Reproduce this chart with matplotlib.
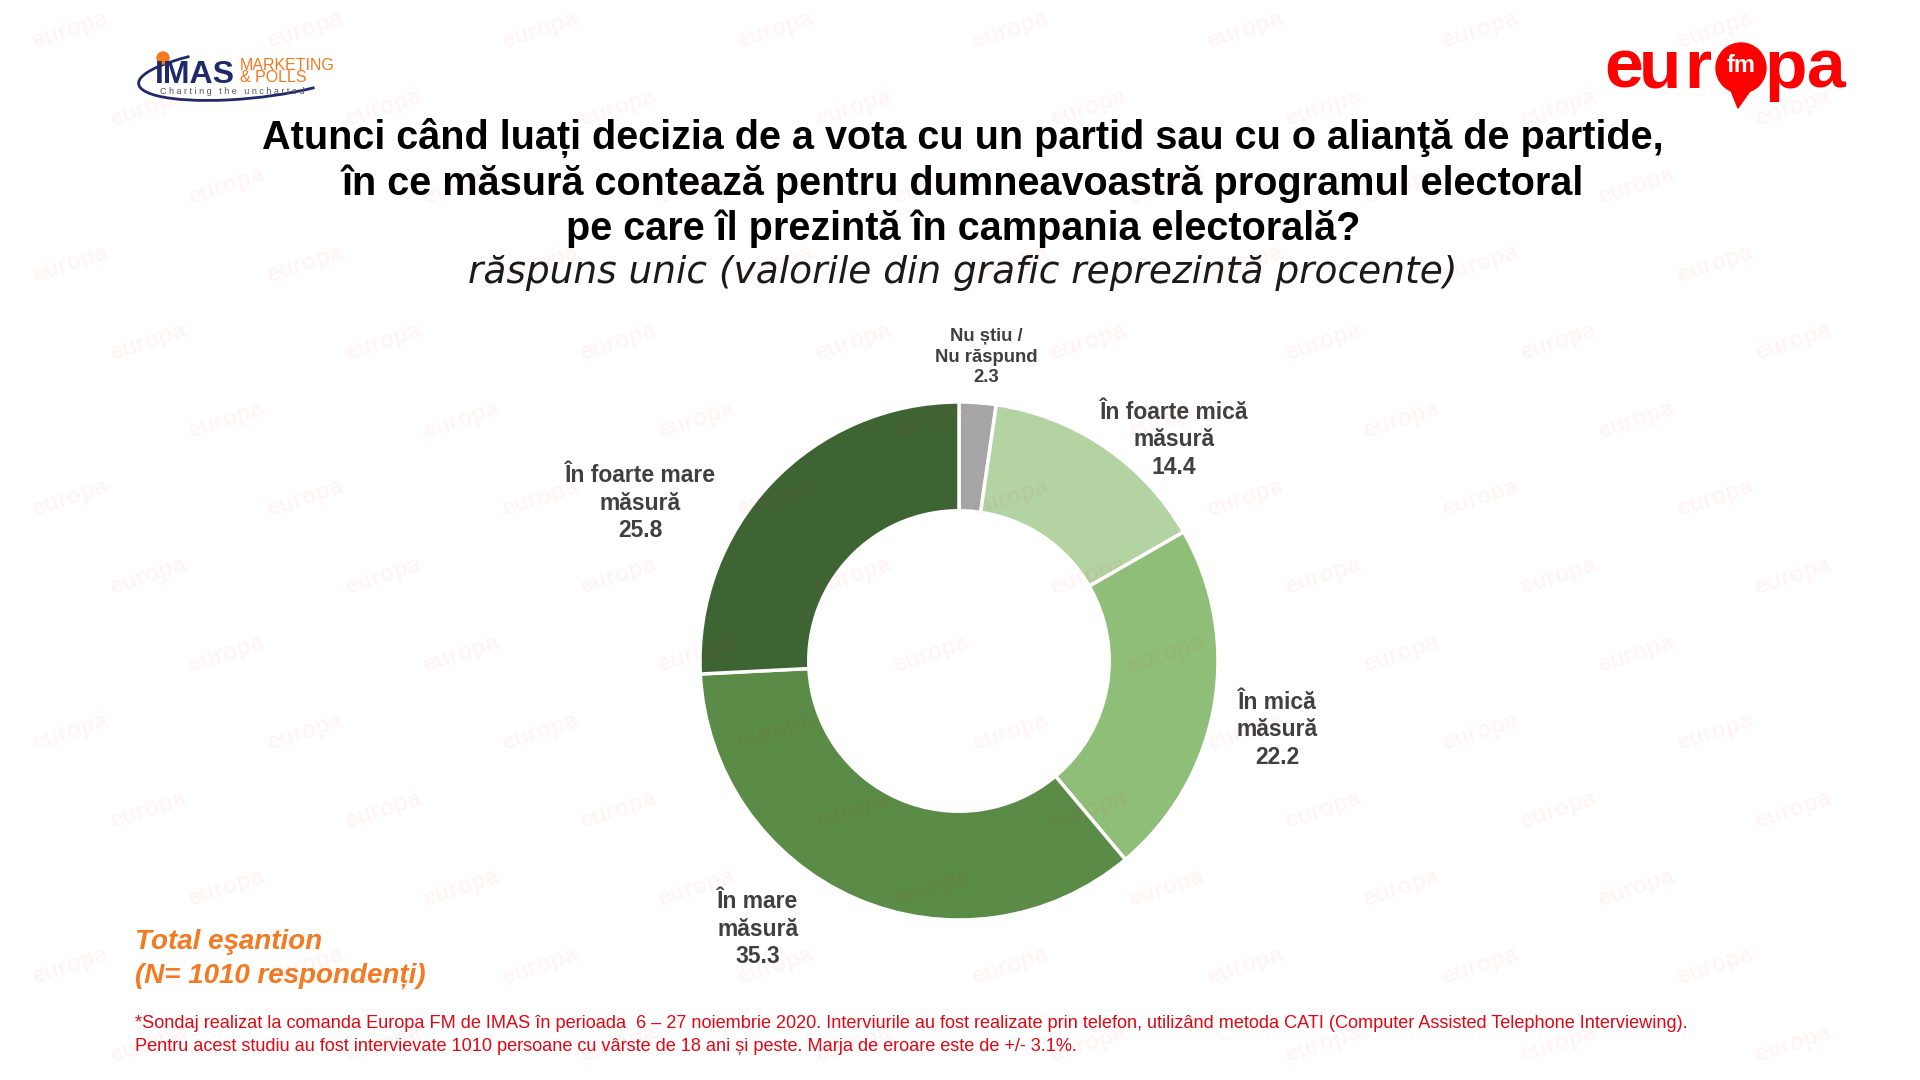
import matplotlib
matplotlib.use('Agg')
import matplotlib.pyplot as plt
from matplotlib.patches import Arc, Circle, Polygon

# survey answers, clockwise from the top
categories = ['Nu știu /\nNu răspund', 'În foarte mică\nmăsură', 'În mică\nmăsură',
              'În mare\nmăsură', 'În foarte mare\nmăsură']
values = [2.3, 14.4, 22.2, 35.3, 25.8]
colors = ['#a6a6a6', '#b3d3a3', '#8fbe78', '#5b8c47', '#3f6433']

title = ('Atunci când luați decizia de a vota cu un partid sau cu o alianţă de partide,\n'
         'în ce măsură contează pentru dumneavoastră programul electoral\n'
         'pe care îl prezintă în campania electorală?')
subtitle = 'răspuns unic (valorile din grafic reprezintă procente)'
sample = 'Total eşantion\n(N= 1010 respondenți)'
footnote = ('*Sondaj realizat la comanda Europa FM de IMAS în perioada  6 – 27 noiembrie 2020. '
            'Interviurile au fost realizate prin telefon, utilizând metoda CATI (Computer Assisted '
            'Telephone Interviewing).\nPentru acest studiu au fost intervievate 1010 persoane cu '
            'vârste de 18 ani și peste. Marja de eroare este de +/- 3.1%.')

W, H = 1920, 1080
fig = plt.figure(figsize=(19.2, 10.8), dpi=100)
fig.patch.set_facecolor('white')

# background axes in pixel coordinates (y downwards)
bg = fig.add_axes([0, 0, 1, 1])
bg.set_xlim(0, W)
bg.set_ylim(H, 0)
bg.axis('off')

# donut
cx, cy, r = 959, 661, 259
ax = fig.add_axes([(cx - r) / W, (H - cy - r) / H, 2 * r / W, 2 * r / H])
ax.pie(values, colors=colors, startangle=90, counterclock=False, radius=1,
       wedgeprops=dict(width=0.42, edgecolor='white', linewidth=2.5))
ax.set_xlim(-1, 1)
ax.set_ylim(-1, 1)
ax.set_aspect('equal')

# slice labels
font = 'Liberation Sans'
label_pos = [(986, 357, 13.3), (1174, 440, 16.5), (1277, 730, 16.5), (758, 929, 16.5),
             (640, 503, 16.5)]
for cat, val, (x, y, fs) in zip(categories, values, label_pos):
    bg.text(x, y, f'{cat}\n{val}', ha='center', va='center', fontsize=fs,
            fontweight='bold', color='#404040', family=font, linespacing=1.25)

# title and subtitle
bg.text(963, 183, title, ha='center', va='center', fontsize=28.5, fontweight='bold',
        family=font, color='black', linespacing=1.22)
bg.text(963, 273, subtitle, ha='center', va='center', fontsize=27, style='italic',
        family='DejaVu Sans', fontweight='light', color='#1a1a1a')

# sample size note
bg.text(135, 959, sample, ha='left', va='center', fontsize=20, fontweight='bold',
        style='italic', family=font, color='#f47920', linespacing=1.4)

# footnote
bg.text(135, 1035, footnote, ha='left', va='center', fontsize=13.1,
        family=font, color='#e30613', linespacing=1.4)

# IMAS logo
bg.add_patch(Arc((252, 72), 228, 52, angle=-6, theta1=20, theta2=200, color='#1f2a6b', lw=2))
bg.add_patch(Circle((163, 58), 6, color='#f47920'))
bg.text(155, 83, 'IMAS', fontsize=23, fontweight='bold', color='#1f2a6b',
        family=font, va='baseline', ha='left')
bg.text(240, 66, 'MARKETING', fontsize=11.5, color='#f47920', family=font, va='center')
bg.text(240, 78, '& POLLS', fontsize=11.5, color='#f47920', family=font, va='center')
bg.text(160, 87, 'C h a r t i n g   t h e   u n c h a r t e d', fontsize=6.5,
        color='#555555', family=font, va='top')

# Europa FM logo
for ch, x in zip('eur', [1624, 1660, 1698]):
    bg.text(x, 70, ch, fontsize=50, fontweight='bold', color='#ff0000',
            family=font, va='center', ha='center')
bg.add_patch(Circle((1741, 68), 25, color='#ff0000'))
bg.add_patch(Polygon([[1730, 88], [1752, 88], [1738, 108]], color='#ff0000'))
bg.text(1741, 66, 'fm', fontsize=17, fontweight='bold', color='white',
        family=font, va='center', ha='center')
for ch, x in zip('pa', [1786, 1826]):
    bg.text(x, 70, ch, fontsize=50, fontweight='bold', color='#ff0000',
            family=font, va='center', ha='center')

# faint "europa" watermark pattern
wm = fig.add_axes([0, 0, 1, 1], zorder=10)
wm.set_xlim(0, W)
wm.set_ylim(H, 0)
wm.axis('off')
for row in range(0, 14):
    for col in range(0, 9):
        x = 70 + col * 235 + (row % 3) * 78
        y = 30 + row * 78
        if x > W - 60:
            continue
        wm.text(x, y, 'europa', fontsize=17, fontweight='bold', color='#ff0000',
                alpha=0.045, rotation=18, family=font, ha='center', va='center')

fig.savefig('out.png', dpi=100)
